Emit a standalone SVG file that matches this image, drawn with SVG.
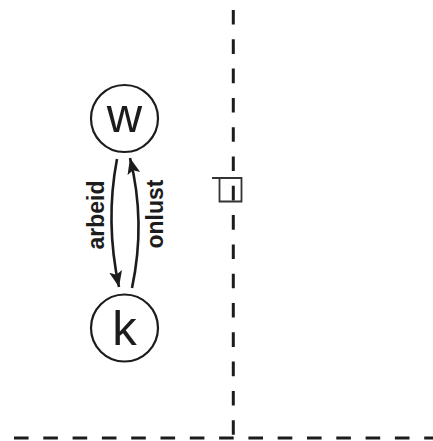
<svg xmlns="http://www.w3.org/2000/svg" width="433" height="441" viewBox="0 0 433 441">
<style>
.dash{fill:none;stroke:#1c1c1c;stroke-width:3;stroke-dasharray:14.6 14.7}
.node{fill:none;stroke:#1c1c1c;stroke-width:2.2}
.big{font-family:"Liberation Sans",Arial,sans-serif;font-size:49px;fill:#1c1c1c;text-anchor:middle}
.lbl{font-family:"Liberation Sans",Arial,sans-serif;font-size:23px;font-weight:bold;fill:#1c1c1c;text-anchor:middle}
.edge{fill:none;stroke:#1c1c1c;stroke-width:2.6}
</style>
<defs>
<marker id="ah" markerUnits="userSpaceOnUse" markerWidth="18" markerHeight="14" refX="16" refY="6.5" orient="auto" viewBox="0 0 18 14">
<path d="M0,0 L16,6.5 L0,13 L3.5,6.5 z" fill="#1c1c1c"/>
</marker>
</defs>
<g id="boundaries">
<line class="dash" x1="233.3" y1="10" x2="233.3" y2="435"/>
<line class="dash" x1="14" y1="438" x2="433" y2="438"/>
<path d="M212,178 H241.5 V201.5 H219.5 V178" fill="none" stroke="#333" stroke-width="1.8"/>
</g>
<g id="node-w">
<circle class="node" cx="124.5" cy="118.5" r="33.5"/>
<text class="big" x="124.5" y="131.5">w</text>
</g>
<g id="node-k">
<circle class="node" cx="124.5" cy="328" r="33.5"/>
<text class="big" x="124.5" y="345">k</text>
</g>
<g id="connectors">
<path class="edge" d="M117,159 Q105,222 119,287" marker-end="url(#ah)"/>
<path class="edge" d="M132,288 Q146,222 130,158" marker-end="url(#ah)"/>
<text class="lbl" transform="translate(104,215) rotate(-90)">arbeid</text>
<text class="lbl" transform="translate(163,214) rotate(-90)">onlust</text>
</g>
</svg>
